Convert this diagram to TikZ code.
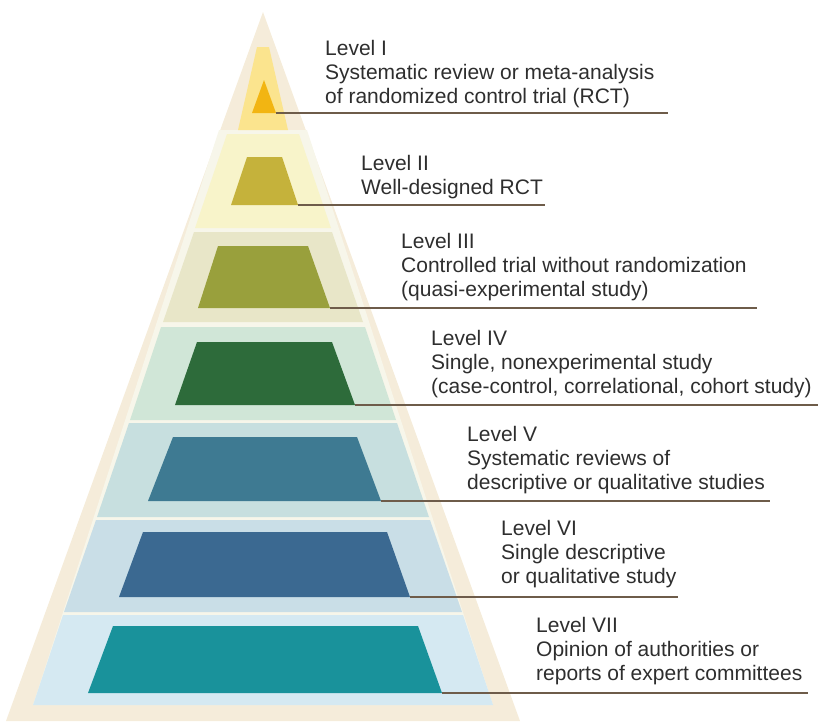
\documentclass[tikz,border=0pt]{standalone}
\usepackage{fontspec}
\setmainfont{Liberation Sans}
\usepackage{xcolor}

\definecolor{pyrcream}{HTML}{F5ECDA}
\definecolor{bandgap}{HTML}{F7F6EA}
\definecolor{bandone}{HTML}{FBE48E}
\definecolor{bandtwo}{HTML}{F8F4CA}
\definecolor{bandthree}{HTML}{E8E6C8}
\definecolor{bandfour}{HTML}{D0E6D7}
\definecolor{bandfive}{HTML}{C7DFDF}
\definecolor{bandsix}{HTML}{C9DEE7}
\definecolor{bandseven}{HTML}{D5E9F2}
\definecolor{stepone}{HTML}{F2B512}
\definecolor{steptwo}{HTML}{C5B23B}
\definecolor{stepthree}{HTML}{99A03C}
\definecolor{stepfour}{HTML}{2D6B3A}
\definecolor{stepfive}{HTML}{3E7A92}
\definecolor{stepsix}{HTML}{3B6991}
\definecolor{stepseven}{HTML}{19929B}
\definecolor{leadbrown}{HTML}{6E5C4A}
\definecolor{textgray}{HTML}{2E2E2E}

\begin{document}
\begin{tikzpicture}[x=1pt,y=-1pt,
  level/.style={anchor=north west,align=left,inner sep=0,
    font=\fontsize{21}{23.8}\selectfont,text=textgray},
  leader/.style={draw=leadbrown,line width=1.6pt}]
\useasboundingbox (0,0) rectangle (819,721);
% outer pyramid
\fill[pyrcream] (263,12) -- (520,721) -- (6,721) -- cycle;
\fill[bandgap] (219,130) -- (307,130) -- (493,705) -- (33,705) -- cycle;
% background bands
\fill[bandone] (257,47) -- (269,47) -- (288,130) -- (238,130) -- cycle;
\fill[bandtwo] (227,134) -- (299,134) -- (331,228) -- (195,228) -- cycle;
\fill[bandthree] (194,232) -- (332,232) -- (363,322) -- (163,322) -- cycle;
\fill[bandfour] (161,327) -- (365,327) -- (396,420) -- (130,420) -- cycle;
\fill[bandfive] (129,423) -- (397,423) -- (429,517) -- (97,517) -- cycle;
\fill[bandsix] (96,520) -- (430,520) -- (462,612) -- (64,612) -- cycle;
\fill[bandseven] (63,615) -- (463,615) -- (493,705) -- (33,705) -- cycle;
% steps
\fill[stepone] (264,80) -- (276,113) -- (252,113) -- cycle;
\fill[steptwo] (247,157) -- (282,157) -- (298,205) -- (231,205) -- cycle;
\fill[stepthree] (218,246) -- (308,246) -- (330,308) -- (198,308) -- cycle;
\fill[stepfour] (197,342) -- (332,342) -- (355,405) -- (175,405) -- cycle;
\fill[stepfive] (173,437) -- (357,437) -- (381,501) -- (148,501) -- cycle;
\fill[stepsix] (143,532) -- (387,532) -- (410,597) -- (119,597) -- cycle;
\fill[stepseven] (113,626) -- (418,626) -- (442,693) -- (88,693) -- cycle;
% leader ends
\coordinate (tipone) at (276,113);
\coordinate (endone) at (668,113);
\coordinate (tiptwo) at (298,205);
\coordinate (endtwo) at (545,205);
\coordinate (tipthree) at (330,308);
\coordinate (endthree) at (757,308);
\coordinate (tipfour) at (355,405);
\coordinate (endfour) at (818,405);
\coordinate (tipfive) at (381,501);
\coordinate (endfive) at (770,501);
\coordinate (tipsix) at (410,597);
\coordinate (endsix) at (678,597);
\coordinate (tipseven) at (442,693);
\coordinate (endseven) at (808,693);
\draw[leader] (tipone) -- (endone);
\draw[leader] (tiptwo) -- (endtwo);
\draw[leader] (tipthree) -- (endthree);
\draw[leader] (tipfour) -- (endfour);
\draw[leader] (tipfive) -- (endfive);
\draw[leader] (tipsix) -- (endsix);
\draw[leader] (tipseven) -- (endseven);
% labels
\node[level] (lvone) at (325,40) {Level I\\Systematic review or meta-analysis\\of randomized control trial (RCT)};
\node[level] (lvtwo) at (361,155) {Level II\\Well-designed RCT};
\node[level] (lvthree) at (401,233) {Level III\\Controlled trial without randomization\\(quasi-experimental study)};
\node[level] (lvfour) at (431,330) {Level IV\\Single, nonexperimental study\\(case-control, correlational, cohort study)};
\node[level] (lvfive) at (467,426) {Level V\\Systematic reviews of\\descriptive or qualitative studies};
\node[level] (lvsix) at (501,520) {Level VI\\Single descriptive\\or qualitative study};
\node[level] (lvseven) at (536,617) {Level VII\\Opinion of authorities or\\reports of expert committees};
\end{tikzpicture}
\end{document}
